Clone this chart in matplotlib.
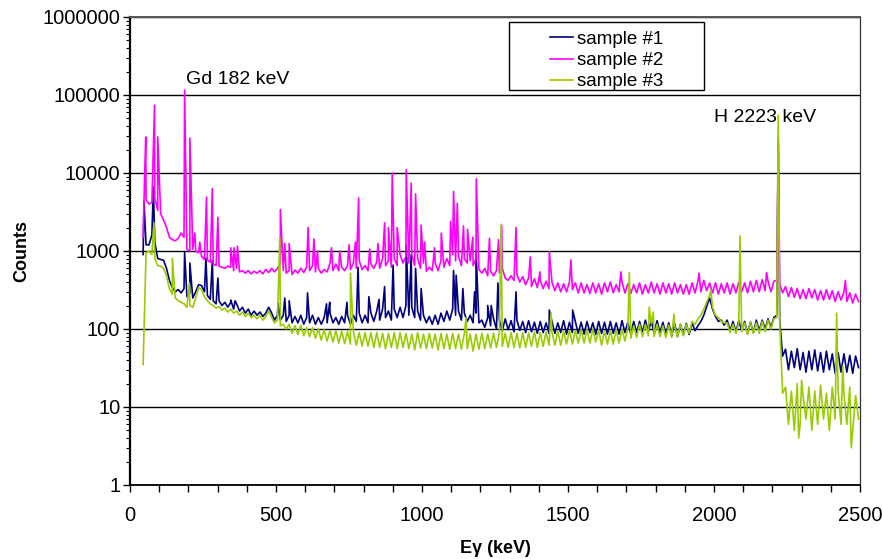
import numpy as np
import matplotlib.pyplot as plt
from matplotlib.patches import Rectangle
from matplotlib.ticker import LogLocator, NullFormatter, MultipleLocator

plt.rcParams['font.family'] = ['Liberation Sans', 'DejaVu Sans']

# channel grid of the baseline readings (keV)
E_START = 45
E_STEP = 10

# sample #1 baseline, 10 keV per value, one row per 100 keV
s1_base = [
    900, 1200, 1200, 1600, 1300, 800, 780, 760, 600, 420,
    340, 300, 320, 290, 330, 260, 290, 250, 300, 370,
    360, 300, 270, 240, 230, 210, 230, 200, 220, 190,
    220, 180, 210, 170, 190, 160, 180, 150, 170, 150,
    165, 145, 160, 190, 160, 130, 150, 130, 150, 125,
    150, 120, 145, 120, 150, 115, 140, 120, 150, 115,
    140, 115, 140, 120, 160, 120, 140, 115, 145, 120,
    150, 115, 150, 125, 160, 120, 150, 120, 160, 125,
    170, 130, 180, 140, 170, 130, 180, 140, 190, 140,
    200, 150, 190, 140, 170, 130, 150, 120, 145, 115,
    150, 115, 160, 125, 170, 130, 180, 150, 170, 130,
    160, 125, 150, 120, 160, 120, 130, 105, 140, 110,
    135, 100, 130, 95, 135, 98, 128, 92, 130, 96,
    125, 90, 128, 92, 122, 88, 125, 90, 120, 88,
    125, 88, 120, 90, 128, 86, 122, 90, 125, 88,
    122, 86, 125, 90, 120, 85, 125, 88, 122, 86,
    125, 88, 120, 86, 128, 90, 122, 86, 125, 90,
    125, 90, 130, 92, 128, 88, 128, 90, 122, 86,
    120, 82, 118, 80, 115, 84, 118, 85, 120, 95,
    110, 125, 150, 195, 250, 180, 145, 125, 130, 112,
    130, 95, 125, 92, 128, 95, 125, 88, 122, 90,
    130, 95, 130, 100, 135, 105, 140, 150, 130, 45,
    55, 30, 52, 32, 56, 30, 50, 28, 52, 30,
    54, 29, 50, 28, 52, 30, 48, 27, 50, 28,
    48, 28, 46, 27, 45, 32,
]
# sample #1 peaks (keV, counts)
s1_peaks = [
    (48, 4300), (80, 6600), (187, 960), (205, 700), (260, 810), (282, 760),
    (301, 450), (345, 235), (360, 230), (507, 215), (530, 250), (545, 230),
    (608, 290), (673, 210), (684, 220), (743, 220), (781, 620), (818, 260),
    (853, 240), (872, 350), (901, 660), (946, 1200), (963, 900), (978, 600),
    (997, 330), (1108, 560), (1117, 490), (1140, 330), (1180, 300),
    (1185, 1000), (1225, 200), (1237, 200), (1260, 390), (1322, 300),
    (1436, 175), (1516, 175), (2220, 25000),
]

# sample #2 baseline
s2_base = [
    1500, 4500, 4000, 4200, 4800, 3300, 3000, 2500, 2000, 1500,
    1400, 1350, 1450, 1700, 1500, 1050, 1000, 1050, 1000, 950,
    850, 780, 760, 720, 680, 650, 640, 620, 600, 640,
    620, 560, 600, 540, 560, 520, 560, 510, 550, 520,
    560, 510, 580, 530, 600, 540, 600, 700, 560, 520,
    560, 500, 570, 520, 600, 530, 620, 560, 640, 540,
    600, 520, 580, 540, 700, 560, 680, 560, 620, 560,
    650, 580, 700, 600, 750, 580, 650, 560, 680, 600,
    720, 600, 800, 650, 750, 620, 800, 650, 900, 700,
    850, 700, 900, 650, 800, 600, 700, 550, 620, 560,
    700, 560, 750, 620, 800, 650, 900, 750, 850, 650,
    800, 700, 750, 650, 800, 580, 520, 600, 480, 550,
    480, 560, 520, 600, 450, 420, 480, 420, 500, 400,
    470, 370, 450, 350, 440, 340, 420, 330, 410, 330,
    400, 310, 390, 300, 380, 300, 400, 320, 390, 290,
    390, 290, 370, 285, 390, 290, 380, 280, 390, 300,
    400, 290, 370, 300, 400, 290, 380, 285, 370, 290,
    390, 280, 370, 290, 400, 290, 380, 280, 390, 290,
    380, 280, 390, 290, 370, 280, 370, 280, 390, 290,
    410, 300, 420, 310, 390, 290, 390, 280, 380, 290,
    390, 280, 380, 290, 400, 300, 390, 290, 410, 300,
    420, 300, 430, 310, 410, 300, 410, 420, 380, 290,
    350, 260, 340, 255, 330, 245, 320, 245, 330, 250,
    320, 235, 310, 235, 320, 240, 310, 225, 300, 235,
    300, 225, 290, 215, 280, 225,
]
s2_peaks = [
    (50, 9000), (54, 29000), (84, 74000), (95, 29000), (187, 115000),
    (205, 28000), (222, 1700), (239, 1300), (262, 4900), (282, 6300),
    (301, 2700), (345, 1100), (356, 1100), (368, 1150), (515, 3400),
    (530, 1250), (545, 1250), (610, 2000), (630, 1430), (642, 1000),
    (690, 1100), (718, 1000), (750, 1200), (772, 1300), (783, 4800),
    (821, 1060), (849, 1250), (872, 2300), (885, 2000), (898, 10000),
    (915, 2000), (946, 11000), (963, 7400), (978, 5400), (997, 2150),
    (1009, 1300), (1043, 1100), (1066, 1700), (1098, 2400), (1108, 5800),
    (1121, 4100), (1142, 2100), (1156, 1900), (1174, 1500), (1186, 8400),
    (1231, 1450), (1262, 1400), (1273, 2100), (1322, 2000), (1371, 840),
    (1404, 540), (1436, 980), (1510, 770), (1681, 540), (1949, 520),
    (2180, 530), (2220, 30000), (2450, 420),
]

# sample #3 baseline
s3_base = [
    35, 950, 1000, 900, 800, 650, 640, 600, 480, 330,
    280, 250, 230, 220, 210, 190, 200, 190, 250, 340,
    320, 260, 230, 210, 200, 185, 195, 175, 185, 165,
    180, 160, 170, 150, 165, 145, 160, 140, 150, 135,
    150, 130, 145, 170, 140, 120, 130, 110, 115, 100,
    115, 88, 110, 85, 112, 82, 105, 80, 104, 76,
    100, 72, 98, 70, 96, 68, 95, 66, 94, 65,
    92, 64, 92, 62, 90, 60, 90, 60, 90, 58,
    90, 58, 88, 56, 88, 58, 90, 56, 90, 58,
    88, 56, 86, 54, 90, 57, 86, 56, 88, 57,
    86, 54, 88, 56, 86, 55, 88, 56, 86, 55,
    88, 56, 86, 52, 86, 55, 88, 56, 86, 57,
    88, 58, 90, 60, 88, 58, 90, 58, 88, 57,
    90, 58, 90, 60, 92, 58, 90, 60, 92, 62,
    92, 62, 94, 62, 94, 64, 96, 64, 96, 66,
    98, 66, 98, 66, 100, 68, 98, 62, 94, 64,
    96, 64, 98, 66, 100, 70, 104, 76, 110, 78,
    115, 80, 115, 82, 118, 80, 115, 80, 110, 78,
    112, 78, 110, 80, 115, 82, 115, 88, 125, 115,
    135, 150, 180, 220, 270, 190, 150, 140, 125, 120,
    120, 90, 115, 88, 120, 92, 120, 85, 120, 88,
    120, 88, 125, 92, 130, 100, 135, 140, 120, 15,
    18, 6, 16, 5, 20, 6, 14, 7, 18, 5,
    16, 6, 19, 7, 15, 5, 18, 7, 16, 6,
    15, 6, 18, 5, 14, 7,
]
s3_peaks = [
    (82, 2300), (145, 810), (203, 390), (513, 1500), (755, 520),
    (1151, 140), (1271, 2200), (1442, 160), (1710, 530), (1778, 190),
    (1792, 165), (1863, 155), (1989, 320), (2089, 1560), (2220, 55000),
    (2290, 4), (2300, 22), (2420, 160), (2441, 33), (2470, 3),
]


def spectrum(base, peaks):
    e = E_START + E_STEP * np.arange(len(base))
    pts = sorted(list(zip(e, base)) + peaks)
    return [p[0] for p in pts], [p[1] for p in pts]


fig = plt.figure(figsize=(8.82, 5.59), dpi=100)
ax = fig.add_axes([130 / 882, 74 / 559, 730 / 882, 468 / 559])

for base, peaks, col, lab in [(s1_base, s1_peaks, '#000080', 'sample #1'),
                              (s2_base, s2_peaks, '#FF00FF', 'sample #2'),
                              (s3_base, s3_peaks, '#99CC00', 'sample #3')]:
    x, y = spectrum(base, peaks)
    ax.plot(x, y, color=col, lw=1.2, label=lab)

ax.set_yscale('log')
ax.set_ylim(1, 1e6)
ax.set_xlim(0, 2500)
ax.xaxis.set_major_locator(MultipleLocator(500))
ax.xaxis.set_minor_locator(MultipleLocator(100))
ax.yaxis.set_minor_locator(LogLocator(base=10, subs=np.arange(2, 10), numticks=10))
ax.yaxis.set_minor_formatter(NullFormatter())
ax.set_yticks([1, 10, 100, 1000, 10000, 100000, 1000000])
ax.set_yticklabels(['1', '10', '100', '1000', '10000', '100000', '1000000'])

ax.grid(axis='y', which='major', color='black', lw=1.0)
ax.tick_params(axis='x', which='both', direction='out', length=5, width=1, labelsize=14.5, pad=10)
ax.tick_params(axis='y', which='major', direction='out', length=5, width=1, labelsize=14.5, pad=2)
ax.tick_params(axis='y', which='minor', direction='out', length=3, width=0.8)

ax.spines['left'].set_linewidth(1.6)
ax.spines['bottom'].set_linewidth(1.3)
ax.spines['top'].set_color('#555555')
ax.spines['top'].set_linewidth(1.4)
ax.spines['right'].set_color('#333333')
ax.spines['right'].set_linewidth(0.9)

ax.set_xlabel('Eγ (keV)', fontsize=13, fontweight='bold', labelpad=11)
ax.set_ylabel('Counts', fontsize=13, fontweight='bold', labelpad=9)

ax.text(191, 1.56e5, 'Gd 182 keV', fontsize=14, ha='left', va='center')
ax.text(2000, 5.2e4, 'H 2223 keV', fontsize=14, ha='left', va='center')

# legend box
ax.add_patch(Rectangle((0.519, 0.844), 0.267, 0.145, transform=ax.transAxes,
                       facecolor='white', edgecolor='black', lw=1.0, zorder=5))
leg = ax.legend(loc='center', bbox_to_anchor=(0.653, 0.907), frameon=False,
                fontsize=13.5, handlelength=1.23, handletextpad=0.25,
                labelspacing=0.22, borderpad=0)
leg.set_zorder(6)

fig.savefig('out.png', dpi=100)
